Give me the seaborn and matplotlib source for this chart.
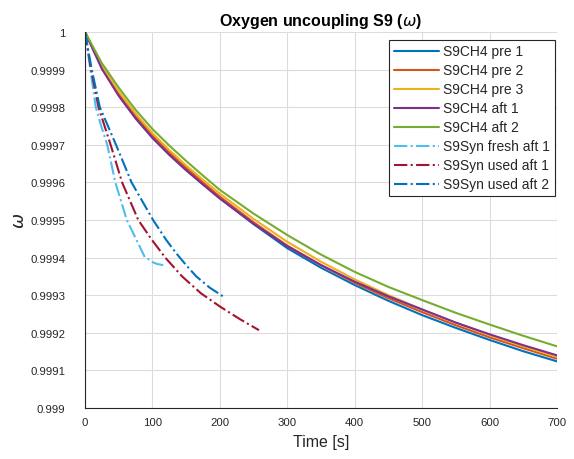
import numpy as np
import pandas as pd
import matplotlib
matplotlib.use("Agg")
import matplotlib.pyplot as plt
import seaborn as sns

# ---------------- data ----------------
t_grid = [0, 25, 50, 75, 100, 125, 150, 175, 200, 250, 300, 350, 400, 450, 500, 550, 600, 650, 700]

w_ch4_pre1 = [1.0, 0.999905, 0.999835, 0.999775, 0.999722, 0.999676, 0.999635, 0.999596, 0.999558,
              0.999489, 0.999425, 0.999373, 0.999327, 0.999285, 0.999247, 0.999213, 0.999181, 0.999151, 0.999124]
w_ch4_pre2 = [1.0, 0.999907, 0.999837, 0.999778, 0.999726, 0.999680, 0.999639, 0.999600, 0.999562,
              0.999494, 0.999432, 0.999380, 0.999333, 0.999292, 0.999255, 0.999220, 0.999188, 0.999159, 0.999131]
w_ch4_pre3 = [1.0, 0.999910, 0.999842, 0.999783, 0.999731, 0.999686, 0.999645, 0.999607, 0.999570,
              0.999503, 0.999442, 0.999389, 0.999342, 0.999300, 0.999262, 0.999227, 0.999194, 0.999164, 0.999136]
w_ch4_aft1 = [1.0, 0.999902, 0.999830, 0.999770, 0.999718, 0.999673, 0.999632, 0.999594, 0.999557,
              0.999490, 0.999430, 0.999380, 0.999336, 0.999297, 0.999262, 0.999227, 0.999196, 0.999167, 0.999140]
w_ch4_aft2 = [1.0, 0.999917, 0.999852, 0.999793, 0.999742, 0.999698, 0.999657, 0.999618, 0.999580,
              0.999517, 0.999460, 0.999408, 0.999362, 0.999322, 0.999287, 0.999253, 0.999222, 0.999192, 0.999164]

t_syn_fresh1 = [0, 8, 16, 24, 33, 45, 62, 75, 89, 94, 100, 107, 116]
w_syn_fresh1 = [1.0, 0.9999, 0.9998, 0.99975, 0.9997, 0.9996, 0.9995, 0.999452, 0.9994,
                0.999396, 0.999388, 0.999383, 0.99938]

t_syn_used1 = [0, 9, 20, 38, 55, 79, 98, 119, 144, 172, 200, 230, 258]
w_syn_used1 = [1.0, 0.9999, 0.9998, 0.9997, 0.9996, 0.9995, 0.99945, 0.9994, 0.99935, 0.999305,
               0.99927, 0.999236, 0.999207]

t_syn_used2 = [0, 10, 22, 46, 69, 101, 120, 136, 150, 165, 185, 208]
w_syn_used2 = [1.0, 0.9999, 0.9998, 0.9997, 0.9996, 0.9995, 0.999448, 0.99941, 0.99938,
               0.99935, 0.99932, 0.999293]

labels = ["S9CH4 pre 1", "S9CH4 pre 2", "S9CH4 pre 3", "S9CH4 aft 1", "S9CH4 aft 2",
          "S9Syn fresh aft 1", "S9Syn used aft 1", "S9Syn used aft 2"]

x_ticks = [0, 100, 200, 300, 400, 500, 600, 700]
y_ticks = [0.999, 0.9991, 0.9992, 0.9993, 0.9994, 0.9995, 0.9996, 0.9997, 0.9998, 0.9999, 1.0]
y_ticklabels = ["0.999", "0.9991", "0.9992", "0.9993", "0.9994", "0.9995",
                "0.9996", "0.9997", "0.9998", "0.9999", "1"]

# ---------------- style ----------------
sns.set_style("white")
plt.rcParams["font.family"] = ["Liberation Sans", "DejaVu Sans"]
plt.rcParams["mathtext.fontset"] = "dejavusans"

colors = ["#0072BD", "#D95319", "#EDB120", "#7E2F8E", "#77AC30", "#4DBEEE", "#A2142F", "#0072BD"]
styles = ["-", "-", "-", "-", "-", "-.", "-.", "-."]

series = [
    (t_grid, w_ch4_pre1), (t_grid, w_ch4_pre2), (t_grid, w_ch4_pre3),
    (t_grid, w_ch4_aft1), (t_grid, w_ch4_aft2),
    (t_syn_fresh1, w_syn_fresh1), (t_syn_used1, w_syn_used1), (t_syn_used2, w_syn_used2),
]

fig = plt.figure(figsize=(5.74, 4.6), dpi=100)
ax = fig.add_axes([85 / 574, 1 - 409 / 460, 472 / 574, 376 / 460])

for (tt, ww), lab, col, ls in zip(series, labels, colors, styles):
    df = pd.DataFrame({"t": tt, "w": ww})
    sns.lineplot(data=df, x="t", y="w", ax=ax, color=col, linestyle=ls,
                 linewidth=1.5, label=lab, estimator=None, sort=False)

ax.set_xlim(0, 700)
ax.set_ylim(0.999, 1.0)
ax.set_xticks(x_ticks)
ax.set_xticklabels([str(v) for v in x_ticks])
ax.set_yticks(y_ticks)
ax.set_yticklabels(y_ticklabels)

ax.grid(True, color="#dcdcdc", linewidth=0.8)
ax.set_axisbelow(True)
for s in ["top", "right"]:
    ax.spines[s].set_visible(False)
for s in ["left", "bottom"]:
    ax.spines[s].set_color("#262626")
    ax.spines[s].set_linewidth(0.8)

ax.tick_params(axis="both", direction="in", length=4, width=0.8, color="#262626",
               labelsize=8.2, labelcolor="#262626")
ax.tick_params(axis="y", pad=14)
ax.tick_params(axis="x", pad=6.5)

ax.set_xlabel("Time [s]", fontsize=11.5, color="#262626", labelpad=5)
ax.set_ylabel(r"$\omega$", fontsize=13, color="#262626", labelpad=2)
ax.set_title(r"Oxygen uncoupling S9 ($\omega$)", fontsize=11.5, fontweight="bold",
             color="black", pad=5)

leg = ax.legend(loc="upper right", bbox_to_anchor=(0.996, 0.98), borderaxespad=0,
                fontsize=10, frameon=True, fancybox=False, framealpha=1,
                edgecolor="#262626", handlelength=3.3, handletextpad=0.28,
                labelspacing=0.36, borderpad=0.35)
leg.get_frame().set_linewidth(0.8)

fig.savefig("out.png", dpi=100, facecolor="white")
